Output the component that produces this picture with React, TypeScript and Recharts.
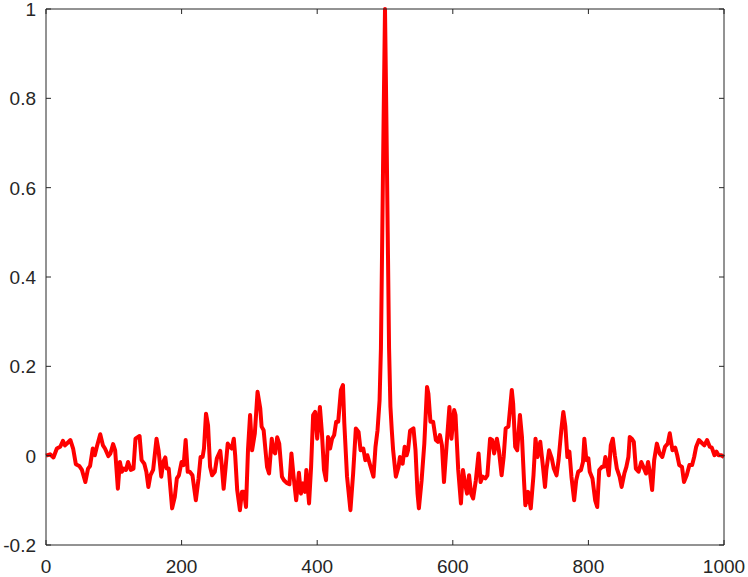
import { LineChart, Line, XAxis, YAxis } from 'recharts';

// lag positions and correlation values
const lags = [
  0, 6, 11, 16, 21, 25, 28, 32, 36, 40, 44, 49, 53, 58, 62, 65, 69, 72, 75, 80,
  84, 87, 92, 95, 99, 102, 106, 109, 112, 115, 118, 121, 125, 129, 132, 138, 141, 145, 148, 151,
  154, 158, 163, 166, 170, 173, 176, 178, 181, 186, 190, 193, 196, 200, 203, 206, 209, 212, 216, 221,
  225, 228, 231, 233, 236, 239, 242, 245, 249, 252, 257, 259, 262, 265, 268, 271, 274, 277, 279, 282,
  286, 289, 292, 295, 298, 301, 304, 308, 312, 316, 318, 321, 326, 329, 333, 335, 338, 341, 344, 348,
  351, 355, 359, 362, 365, 369, 373, 376, 379, 382, 384, 388, 391, 394, 397, 400, 404, 407, 410, 413,
  416, 419, 422, 425, 428, 431, 435, 438, 440, 444, 449, 453, 457, 461, 464, 468, 471, 474, 478, 483,
  486, 489, 492, 494, 496, 498, 500, 502, 504, 506, 508, 510, 512, 516, 520, 522, 526, 529, 532, 534,
  537, 542, 545, 548, 550, 554, 558, 562, 564, 567, 571, 575, 578, 581, 584, 587, 591, 595, 598, 602,
  604, 608, 612, 615, 618, 621, 624, 627, 630, 634, 638, 641, 644, 648, 651, 655, 658, 661, 665, 668,
  672, 675, 678, 682, 687, 689, 692, 695, 699, 702, 705, 707, 711, 715, 719, 722, 725, 729, 733, 736,
  738, 742, 746, 749, 753, 756, 760, 763, 766, 769, 772, 775, 779, 782, 785, 789, 792, 794, 797, 800,
  802, 806, 810, 813, 816, 820, 823, 825, 827, 830, 833, 836, 839, 842, 846, 849, 853, 856, 859, 861,
  864, 867, 870, 874, 878, 881, 885, 888, 891, 894, 897, 901, 905, 909, 913, 917, 920, 924, 928, 931,
  934, 938, 941, 945, 949, 953, 956, 959, 963, 967, 971, 975, 979, 982, 986, 989, 992, 996, 1000,
];

const corr = [
  0.0, 0.003, -0.004, 0.016, 0.02, 0.033, 0.023, 0.029, 0.035, 0.016, -0.019, -0.023, -0.032, -0.059, -0.029, -0.023, 0.016, 0.001, 0.02, 0.048,
  0.023, 0.016, -0.001, 0.005, 0.026, 0.012, -0.074, -0.014, -0.036, -0.029, -0.032, -0.014, -0.032, -0.029, 0.038, 0.044, -0.01, -0.018, -0.036, -0.07,
  -0.044, -0.032, 0.038, 0.012, -0.047, -0.014, -0.004, -0.029, -0.029, -0.118, -0.092, -0.051, -0.044, -0.014, -0.021, 0.035, -0.036, -0.036, -0.044, -0.1,
  -0.051, -0.003, -0.003, 0.016, 0.094, 0.068, -0.025, -0.044, -0.036, -0.006, 0.011, -0.018, -0.074, -0.025, 0.027, 0.02, 0.016, 0.038, 0.001, -0.077,
  -0.122, -0.081, -0.081, -0.115, 0.016, 0.091, 0.012, 0.05, 0.143, 0.106, 0.065, 0.057, -0.025, -0.04, 0.038, 0.012, 0.005, 0.041, 0.027, -0.047,
  -0.055, -0.061, -0.064, 0.005, -0.044, -0.1, -0.038, -0.085, -0.062, -0.081, -0.032, -0.107, -0.025, 0.091, 0.098, 0.038, 0.109, 0.05, -0.032, -0.055,
  0.042, 0.016, 0.038, 0.046, 0.076, 0.076, 0.147, 0.158, 0.072, -0.047, -0.122, -0.04, 0.061, 0.053, 0.012, 0.016, -0.01, 0.001, -0.021, -0.047,
  0.02, 0.057, 0.124, 0.24, 0.5, 0.76, 1.0, 0.76, 0.5, 0.24, 0.11, 0.057, 0.012, -0.047, -0.025, -0.003, -0.018, 0.02, 0.001, 0.012,
  0.056, 0.061, 0.012, -0.085, -0.118, -0.055, 0.027, 0.154, 0.139, 0.076, 0.076, 0.035, 0.031, 0.046, 0.023, -0.059, 0.027, 0.109, 0.038, 0.102,
  0.091, -0.032, -0.107, -0.032, -0.062, -0.085, -0.044, -0.085, -0.096, -0.055, 0.005, -0.059, -0.047, -0.051, -0.044, 0.038, 0.035, 0.005, 0.038, 0.012,
  -0.044, -0.003, 0.061, 0.065, 0.147, 0.117, 0.02, 0.012, 0.091, 0.042, -0.055, -0.111, -0.081, -0.118, -0.044, 0.038, -0.003, 0.031, -0.025, -0.07,
  -0.032, 0.012, -0.006, -0.029, -0.044, -0.01, 0.057, 0.098, 0.065, -0.003, 0.009, -0.047, -0.1, -0.055, -0.036, -0.032, -0.014, 0.038, -0.01, -0.006,
  -0.036, -0.051, -0.1, -0.115, -0.032, -0.025, -0.025, -0.003, -0.014, -0.044, 0.023, 0.038, 0.001, -0.029, -0.047, -0.07, -0.04, -0.025, -0.003, 0.042,
  0.038, 0.031, -0.029, -0.036, -0.014, -0.025, -0.04, -0.014, -0.04, -0.077, -0.01, 0.027, 0.005, -0.003, 0.02, 0.027, 0.05, 0.012, 0.018, 0.001,
  -0.021, -0.025, -0.059, -0.044, -0.021, -0.021, -0.003, 0.02, 0.035, 0.029, 0.023, 0.035, 0.02, 0.018, 0.001, 0.009, 0.001, 0.001, -0.003,
];

const xTicks = [0, 200, 400, 600, 800, 1000];
const yTicks = [-0.2, 0, 0.2, 0.4, 0.6, 0.8, 1];

const data = lags.map((lag, i) => ({ lag, r: corr[i] }));

const axisColor = '#262626';
const fontFamily = 'Liberation Sans, Arial, sans-serif';
const fontSize = 19;
const TICK = 5;

// MATLAB-style ticks: short marks pointing into the plot box
const BottomTick = ({ x, y, payload }: any) => (
  <g>
    <line x1={x} y1={y} x2={x} y2={y - TICK} stroke={axisColor} />
    <text x={x} y={y + 28} textAnchor="middle" fill={axisColor} fontFamily={fontFamily} fontSize={fontSize}>
      {payload.value}
    </text>
  </g>
);

const LeftTick = ({ x, y, payload }: any) => (
  <g>
    <line x1={x} y1={y} x2={x + TICK} y2={y} stroke={axisColor} />
    <text x={x - 10} y={y} dy="0.36em" textAnchor="end" fill={axisColor} fontFamily={fontFamily} fontSize={fontSize}>
      {payload.value}
    </text>
  </g>
);

const TopTick = ({ x, y }: any) => <line x1={x} y1={y} x2={x} y2={y + TICK} stroke={axisColor} />;

const RightTick = ({ x, y }: any) => <line x1={x} y1={y} x2={x - TICK} y2={y} stroke={axisColor} />;

export default function App() {
  return (
    <div style={{ position: 'absolute', left: 0, top: 0, width: 748, height: 577, background: '#fff' }}>
      <LineChart width={748} height={577} data={data} margin={{ top: 8, right: 23, bottom: 0, left: 0 }}>
        <XAxis
          dataKey="lag"
          type="number"
          domain={[0, 1000]}
          ticks={xTicks}
          height={32}
          stroke={axisColor}
          tickLine={false}
          tickSize={0}
          tickMargin={0}
          tick={<BottomTick />}
          interval={0}
        />
        <XAxis
          xAxisId="top"
          dataKey="lag"
          type="number"
          orientation="top"
          domain={[0, 1000]}
          ticks={xTicks}
          height={1}
          stroke={axisColor}
          tickLine={false}
          tickSize={0}
          tickMargin={0}
          tick={<TopTick />}
          interval={0}
        />
        <YAxis
          type="number"
          domain={[-0.2, 1]}
          ticks={yTicks}
          width={46}
          stroke={axisColor}
          tickLine={false}
          tickSize={0}
          tickMargin={0}
          tick={<LeftTick />}
          interval={0}
        />
        <YAxis
          yAxisId="right"
          orientation="right"
          type="number"
          domain={[-0.2, 1]}
          ticks={yTicks}
          width={1}
          stroke={axisColor}
          tickLine={false}
          tickSize={0}
          tickMargin={0}
          tick={<RightTick />}
          interval={0}
        />
        {/* invisible twin so the top and right axes (the box) are drawn */}
        <Line
          xAxisId="top"
          yAxisId="right"
          dataKey="r"
          stroke="none"
          dot={false}
          legendType="none"
          isAnimationActive={false}
        />
        <Line
          dataKey="r"
          stroke="#ff0000"
          strokeWidth={4}
          dot={false}
          type="linear"
          strokeLinejoin="round"
          isAnimationActive={false}
        />
      </LineChart>
    </div>
  );
}
